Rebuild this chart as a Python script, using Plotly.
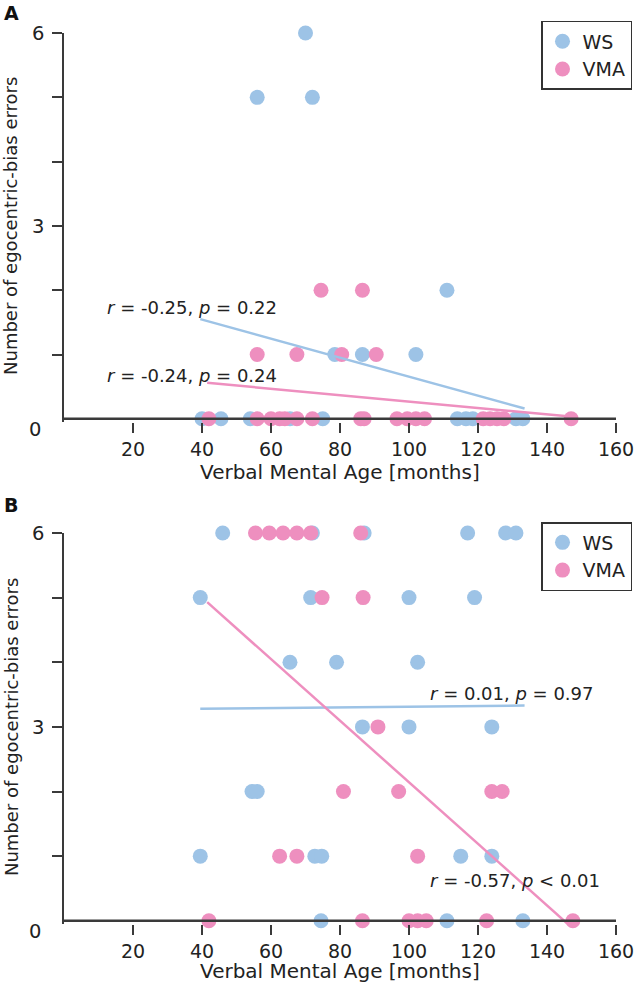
import plotly.graph_objects as go

# ---- data ----
# panel A
a_ws_x = [70, 56, 72, 111, 78.5, 86.5, 102, 40, 45.5, 54, 65.5, 75, 114, 116.5, 118.5, 131, 133]
a_ws_y = [6, 5, 5, 2, 1, 1, 1, 0, 0, 0, 0, 0, 0, 0, 0, 0, 0]
a_vma_x = [74.5, 86.5, 56, 67.5, 80.5, 90.5, 42, 56, 60, 62.5, 64, 67.5, 72, 86, 87,
           96.5, 99.5, 102, 104.5, 121.5, 123.5, 125.5, 127.5, 147]
a_vma_y = [2, 2, 1, 1, 1, 1, 0, 0, 0, 0, 0, 0, 0, 0, 0, 0, 0, 0, 0, 0, 0, 0, 0, 0]
a_ws_fit_x = [39.5, 133.5]
a_ws_fit_y = [1.55, 0.16]
a_vma_fit_x = [41.5, 146]
a_vma_fit_y = [0.56, 0.04]

# panel B
b_ws_x = [46, 72, 87, 117, 128, 131, 39.5, 71.5, 100, 119, 65.5, 79, 102.5, 86.5, 100, 124,
          54.5, 56, 39.5, 72.7, 74.7, 115, 124, 74.5, 111, 133]
b_ws_y = [6, 6, 6, 6, 6, 6, 5, 5, 5, 5, 4, 4, 4, 3, 3, 3, 2, 2, 1, 1, 1, 1, 1, 0, 0, 0]
b_vma_x = [55.5, 59.5, 63.5, 67.5, 71.5, 86, 74.8, 86.7, 91, 81, 97, 124, 127, 62.5, 67.5, 102.5,
           42, 86.5, 100, 102.5, 105, 122.5, 147.5]
b_vma_y = [6, 6, 6, 6, 6, 6, 5, 5, 3, 2, 2, 2, 2, 1, 1, 1, 0, 0, 0, 0, 0, 0, 0]
b_ws_fit_x = [39.5, 133.5]
b_ws_fit_y = [3.28, 3.33]
b_vma_fit_x = [41.5, 147.5]
b_vma_fit_y = [4.93, -0.12]

x_ticks = [20, 40, 60, 80, 100, 120, 140, 160]
y_ticks = [1, 2, 3, 4, 5, 6]
y_ticktext = ['', '', '3', '', '', '6']
stats_a = ['<i>r</i> = -0.25, <i>p</i> = 0.22', '<i>r</i> = -0.24, <i>p</i> = 0.24']
stats_b = ['<i>r</i> = 0.01, <i>p</i> = 0.97', '<i>r</i> = -0.57, <i>p</i> < 0.01']

BLUE = '#9DC3E6'
PINK = '#EE8FBF'
AXIS = '#3a3a3a'
FONT = 'DejaVu Sans, Verdana, sans-serif'

fig = go.Figure()

def add_panel(xa, ya, legend, ws_x, ws_y, vma_x, vma_y, wfx, wfy, vfx, vfy):
    fig.add_trace(go.Scatter(x=ws_x, y=ws_y, mode='markers', name='WS',
                             marker=dict(color=BLUE, size=15), cliponaxis=False,
                             xaxis=xa, yaxis=ya, legend=legend))
    fig.add_trace(go.Scatter(x=vma_x, y=vma_y, mode='markers', name='VMA',
                             marker=dict(color=PINK, size=15), cliponaxis=False,
                             xaxis=xa, yaxis=ya, legend=legend))
    fig.add_trace(go.Scatter(x=wfx, y=wfy, mode='lines', line=dict(color=BLUE, width=2.5),
                             showlegend=False, xaxis=xa, yaxis=ya, hoverinfo='skip'))
    fig.add_trace(go.Scatter(x=vfx, y=vfy, mode='lines', line=dict(color=PINK, width=2.5),
                             showlegend=False, xaxis=xa, yaxis=ya, hoverinfo='skip'))

add_panel('x', 'y', 'legend', a_ws_x, a_ws_y, a_vma_x, a_vma_y,
          a_ws_fit_x, a_ws_fit_y, a_vma_fit_x, a_vma_fit_y)
add_panel('x2', 'y2', 'legend2', b_ws_x, b_ws_y, b_vma_x, b_vma_y,
          b_ws_fit_x, b_ws_fit_y, b_vma_fit_x, b_vma_fit_y)

x_dom = [0, 552 / 568]
xstyle = dict(range=[0, 160], domain=x_dom, tickvals=x_ticks, ticks='outside', ticklen=10,
              tickwidth=1.5, tickcolor=AXIS, showline=False, showgrid=False, zeroline=False,
              tickfont=dict(size=19, color='#222'), ticklabelstandoff=0, automargin=False)
ystyle = dict(range=[-0.05, 6], tickvals=y_ticks, ticktext=y_ticktext, ticks='outside',
              ticklen=10, tickwidth=1.5, tickcolor=AXIS, showline=True, linecolor=AXIS,
              linewidth=1.5, showgrid=False, zeroline=False, automargin=False,
              tickfont=dict(size=19.5, color='#222'), ticklabelstandoff=4)

dom_a = [0.5492, 0.9748]
dom_b = [0.0, 0.4278]

legend_style = dict(font=dict(size=19, color='#222', family=FONT), bordercolor='#333',
                    borderwidth=1.5, bgcolor='white', xanchor='right', yanchor='top')

fig.update_layout(
    width=636, height=988,
    margin=dict(l=64, r=4, t=10, b=64),
    paper_bgcolor='white', plot_bgcolor='white',
    font=dict(family=FONT, color='#222'),
    xaxis=dict(**xstyle, anchor='y'),
    yaxis=dict(**ystyle, domain=dom_a, anchor='x'),
    xaxis2=dict(**xstyle, anchor='y2'),
    yaxis2=dict(**ystyle, domain=dom_b, anchor='x2'),
    legend=dict(**legend_style, x=1.0, y=0.9880),
    legend2=dict(**legend_style, x=1.0, y=0.4398),
)

# x-axis lines at zero, drawn above the markers
for xr, yr in [('x domain', 'y'), ('x2 domain', 'y2')]:
    fig.add_shape(type='line', xref=xr, yref=yr, x0=0, x1=1, y0=0, y1=0,
                  line=dict(color=AXIS, width=2.5), layer='above')

ann = []
for label, yc in [('A', 0.9962), ('B', 0.4579)]:
    ann.append(dict(text='<b>' + label + '</b>', xref='paper', yref='paper', x=-0.109, y=yc,
                    xanchor='left', yanchor='middle', showarrow=False,
                    font=dict(size=19, color='#111')))
for yc in [0.7637, 0.2155]:
    ann.append(dict(text='Number of egocentric-bias errors', xref='paper', yref='paper',
                    x=-0.0933, y=yc, textangle=-90, xanchor='center', yanchor='middle',
                    showarrow=False, font=dict(size=18, color='#222')))
for yc in [0.4945, -0.0514]:
    ann.append(dict(text='Verbal Mental Age [months]', xref='paper', yref='paper',
                    x=0.4859, y=yc, xanchor='center', yanchor='middle',
                    showarrow=False, font=dict(size=20, color='#222')))
# the zero labels of the y axes sit a little below the axis
for yr in ['y', 'y2']:
    ann.append(dict(text='0', xref='paper', yref=yr, x=-0.037, y=0, yshift=-11,
                    xanchor='right', yanchor='middle', showarrow=False,
                    font=dict(size=19.5, color='#222')))
# correlation labels
for (txt, x, y) in [(stats_a[0], 11.9, 1.73), (stats_a[1], 11.9, 0.67)]:
    ann.append(dict(text=txt, xref='x', yref='y', x=x, y=y, xanchor='left', yanchor='middle',
                    showarrow=False, font=dict(size=18, color='#222')))
for (txt, x, y) in [(stats_b[0], 105.5, 3.52), (stats_b[1], 105.5, 0.63)]:
    ann.append(dict(text=txt, xref='x2', yref='y2', x=x, y=y, xanchor='left', yanchor='middle',
                    showarrow=False, font=dict(size=18, color='#222')))
fig.update_layout(annotations=ann)

# the page's default body margin would shift the figure by 8px
fig.write_html('out.html', config={'displayModeBar': False},
               post_script="document.body.style.margin='0';document.body.style.overflow='hidden';")
